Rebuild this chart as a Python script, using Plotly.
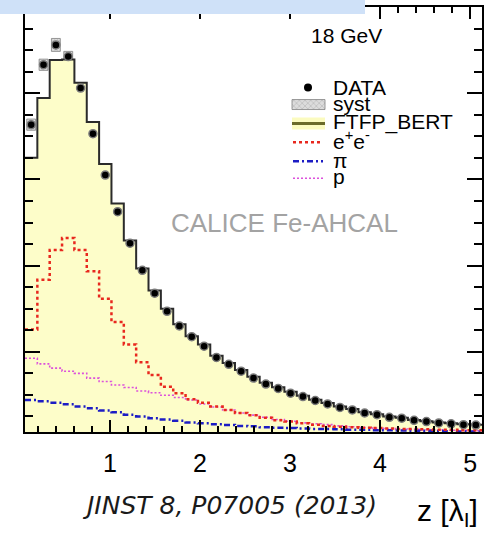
import numpy as np
import plotly.graph_objects as go

# ---- longitudinal shower profile, 18 GeV pions, per AHCAL layer ----
n_layers = 37
z_start = 0.056          # first layer front face [lambda_I]
layer_width = 0.1372     # layer thickness [lambda_I]

data_vals = [7.27, 8.66, 9.12, 8.85, 8.12, 7.06, 6.10, 5.25, 4.52, 3.89,
             3.36, 2.94, 2.60, 2.35, 2.13, 1.87, 1.71, 1.55, 1.39, 1.25,
             1.15, 1.04, 0.96, 0.87, 0.79, 0.71, 0.65, 0.58, 0.54, 0.48,
             0.46, 0.41, 0.38, 0.35, 0.33, 0.31, 0.30]
syst_vals = [0.13, 0.13, 0.15, 0.12, 0.09, 0.08, 0.08, 0.07, 0.06, 0.06,
             0.05, 0.05, 0.05, 0.05, 0.04, 0.04, 0.04, 0.04, 0.04, 0.04,
             0.04, 0.04, 0.04, 0.04, 0.04, 0.04, 0.04, 0.04, 0.04, 0.04,
             0.04, 0.04, 0.04, 0.04, 0.04, 0.04, 0.04]
ftfp_bert = [6.50, 7.89, 8.77, 8.78, 8.24, 7.33, 6.36, 5.44, 4.58, 3.93,
             3.42, 3.00, 2.64, 2.36, 2.17, 1.91, 1.74, 1.58, 1.42, 1.28,
             1.18, 1.07, 0.98, 0.89, 0.81, 0.73, 0.67, 0.60, 0.55, 0.50,
             0.47, 0.42, 0.39, 0.36, 0.34, 0.32, 0.31]
ee_vals = [2.52, 3.67, 4.36, 4.64, 4.36, 3.87, 3.23, 2.69, 2.17, 1.76,
           1.46, 1.19, 1.04, 0.90, 0.82, 0.73, 0.65, 0.58, 0.53, 0.47,
           0.41, 0.38, 0.34, 0.31, 0.28, 0.26, 0.25, 0.24, 0.23, 0.22,
           0.21, 0.21, 0.20, 0.19, 0.19, 0.18, 0.18]
pi_vals = [0.88, 0.85, 0.82, 0.78, 0.73, 0.69, 0.64, 0.60, 0.54, 0.50,
           0.46, 0.43, 0.40, 0.36, 0.34, 0.32, 0.30, 0.28, 0.27, 0.25,
           0.24, 0.23, 0.22, 0.21, 0.21, 0.20, 0.19, 0.19, 0.18, 0.18,
           0.175, 0.17, 0.166, 0.16, 0.157, 0.152, 0.148]
p_vals = [1.85, 1.72, 1.62, 1.55, 1.50, 1.39, 1.31, 1.23, 1.17, 1.09,
          1.05, 0.99, 0.94, 0.88, 0.79, 0.72, 0.65, 0.58, 0.53, 0.48,
          0.43, 0.39, 0.35, 0.33, 0.31, 0.28, 0.26, 0.245, 0.23, 0.22,
          0.21, 0.20, 0.19, 0.19, 0.18, 0.18, 0.17]

x_tick_vals = [1, 2, 3, 4, 5]
x_tick_text = ["1", "2", "3", "4", "5"]

edges = z_start + layer_width * np.arange(n_layers + 1)
centers = edges[:-1] + layer_width / 2


def steps(vals):
    return list(edges), list(vals) + [vals[-1]]


W, H = 494, 534
ML, MR, MT, MB = 25, 12, 5, 102
PW, PH = W - ML - MR, H - MT - MB


def px(x):
    return (x - ML) / PW


def py(y):
    return (H - MB - y) / PH


FONT = "Liberation Sans, Arial, sans-serif"

fig = go.Figure()

# FTFP_BERT filled histogram
sx, sy = steps(ftfp_bert)
fig.add_trace(go.Scatter(x=sx, y=sy, mode="lines", line=dict(shape="hv", color="#2b2b2b", width=2),
                         fill="tozeroy", fillcolor="#fdfdc9", hoverinfo="skip"))
# component histograms
sx, sy = steps(p_vals)
fig.add_trace(go.Scatter(x=sx, y=sy, mode="lines",
                         line=dict(shape="hv", color="#dc50dc", width=1.6, dash="2px,2px")))
sx, sy = steps(pi_vals)
fig.add_trace(go.Scatter(x=sx, y=sy, mode="lines",
                         line=dict(shape="hv", color="#1c1cc4", width=2.5, dash="6px,3px,2px,3px")))
sx, sy = steps(ee_vals)
fig.add_trace(go.Scatter(x=sx, y=sy, mode="lines",
                         line=dict(shape="hv", color="#e8281e", width=2.5, dash="3px,3px")))

# systematic uncertainty boxes
fig.add_trace(go.Bar(x=centers, y=[2 * s for s in syst_vals],
                     base=[d - s for d, s in zip(data_vals, syst_vals)],
                     width=layer_width * 0.72,
                     marker=dict(color="#d6d6d6", line=dict(width=0.8, color="#808080"),
                                 pattern=dict(shape="x", fgcolor="#6e6e6e", bgcolor="#dcdcdc", size=4))))
# data points
fig.add_trace(go.Scatter(x=centers, y=data_vals, mode="markers",
                         marker=dict(color="black", size=8, line=dict(color="#7a7a7a", width=1.5))))

# ---- legend symbols drawn on a pixel-scaled overlay axis ----
lx0, lx1 = 292, 325
fig.add_trace(go.Scatter(x=[308], y=[86], mode="markers", xaxis="x2", yaxis="y2",
                         marker=dict(color="black", size=8)))
fig.add_trace(go.Bar(x=[(lx0 + lx1) / 2], y=[10], base=[98], width=lx1 - lx0, xaxis="x2", yaxis="y2",
                     marker=dict(color="#d6d6d6", line=dict(width=0.8, color="#808080"),
                                 pattern=dict(shape="x", fgcolor="#6e6e6e", bgcolor="#dcdcdc", size=4))))
fig.add_trace(go.Bar(x=[(lx0 + lx1) / 2], y=[12], base=[116], width=lx1 - lx0, xaxis="x2", yaxis="y2",
                     marker=dict(color="#fbfbc0", line=dict(width=0))))
fig.add_trace(go.Scatter(x=[lx0, lx1], y=[122, 122], mode="lines", xaxis="x2", yaxis="y2",
                         line=dict(color="#6b6b2a", width=3)))
fig.add_trace(go.Scatter(x=[lx0 + 1, lx1 - 2], y=[141, 141], mode="lines", xaxis="x2", yaxis="y2",
                         line=dict(color="#e8281e", width=2.5, dash="3px,3px")))
fig.add_trace(go.Scatter(x=[lx0 + 1, lx1 - 2], y=[160, 160], mode="lines", xaxis="x2", yaxis="y2",
                         line=dict(color="#1c1cc4", width=2.5, dash="6px,3px,2px,3px")))
fig.add_trace(go.Scatter(x=[lx0 + 1, lx1 - 2], y=[177, 177], mode="lines", xaxis="x2", yaxis="y2",
                         line=dict(color="#dc50dc", width=1.6, dash="2px,2px")))

legend_rows = [("DATA", 86), ("syst", 102), ("FTFP_BERT", 121),
               ("e<sup>+</sup>e<sup>-</sup>", 139), ("π", 159), ("p", 175)]
annotations = []
for txt, yy in legend_rows:
    annotations.append(dict(x=px(331), y=py(yy), xref="paper", yref="paper", text=txt,
                            showarrow=False, xanchor="left", yanchor="middle",
                            font=dict(family=FONT, size=21, color="black")))

annotations += [
    dict(x=px(346), y=py(34), xref="paper", yref="paper", text="18 GeV", showarrow=False,
         xanchor="center", yanchor="middle", font=dict(family=FONT, size=21, color="black")),
    dict(x=px(284), y=py(222), xref="paper", yref="paper", text="CALICE Fe-AHCAL", showarrow=False,
         xanchor="center", yanchor="middle", font=dict(family=FONT, size=26, color="#a3a3a3")),
    dict(x=px(229), y=py(506), xref="paper", yref="paper", text="<i>JINST 8, P07005 (2013)</i>",
         showarrow=False, xanchor="center", yanchor="middle",
         font=dict(family="DejaVu Sans, sans-serif", size=25, color="#1a1a1a")),
    dict(x=px(447), y=py(513), xref="paper", yref="paper", text="z [λ<sub>I</sub>]",
         showarrow=False, xanchor="center", yanchor="middle",
         font=dict(family=FONT, size=30, color="black")),
]

fig.update_layout(
    width=W, height=H, margin=dict(l=ML, r=MR, t=MT, b=MB),
    paper_bgcolor="white", plot_bgcolor="white", showlegend=False, barmode="overlay",
    annotations=annotations,
    xaxis=dict(range=[z_start, z_start + layer_width * n_layers], showgrid=False, zeroline=False,
               showline=True, linecolor="black", linewidth=2, mirror="ticks",
               ticks="inside", ticklen=12, tickwidth=2, tickcolor="black",
               tickvals=x_tick_vals, ticktext=x_tick_text, ticklabelstandoff=8,
               tickfont=dict(family=FONT, size=25, color="black"),
               minor=dict(dtick=0.2, tick0=0, ticks="inside", ticklen=6, tickwidth=2, tickcolor="black")),
    yaxis=dict(range=[0.139, 10.0], showgrid=False, zeroline=False,
               showline=True, linecolor="black", linewidth=2, mirror="ticks",
               ticks="inside", ticklen=15, tickwidth=2, tickcolor="black",
               tick0=0, dtick=2, showticklabels=False,
               minor=dict(dtick=0.5, tick0=0, ticks="inside", ticklen=8, tickwidth=2, tickcolor="black")),
    xaxis2=dict(overlaying="x", anchor="y2", range=[ML, W - MR], visible=False),
    yaxis2=dict(overlaying="y", anchor="x2", range=[H - MB, MT], visible=False),
    shapes=[dict(type="rect", xref="paper", yref="paper", x0=px(-2), x1=px(365), y0=py(12), y1=py(-2),
                 fillcolor="#cfe1f8", line=dict(width=0), layer="above")],
)

fig.write_html("out.html")
